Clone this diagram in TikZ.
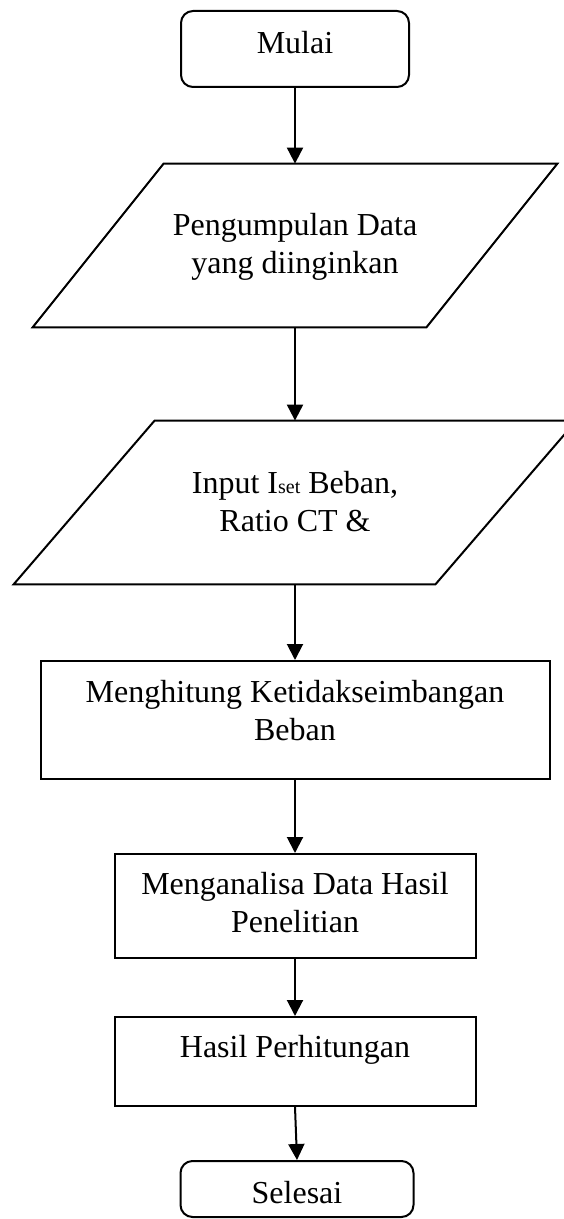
\documentclass[tikz,border=0pt]{standalone}
\usepackage{fontspec}
\setmainfont{Liberation Serif}
\usetikzlibrary{arrows.meta}

\begin{document}
\begin{tikzpicture}[x=0.5pt,y=-0.5pt,
    box/.style={draw,line width=1pt,inner sep=0pt},
    term/.style={box,rounded corners=6pt},
    io/.style={inner sep=0pt},
    txt/.style={font=\fontsize{16}{19}\selectfont,align=center,anchor=base,inner sep=0pt},
    arr/.style={line width=1pt,-{Triangle[width=8pt,length=8pt]}}]
    \useasboundingbox (0,0) rectangle (563,1219);

    % shapes
    \node[term,minimum width=114pt,minimum height=38pt] (mulai) at (295,49) {};
    \node[io,minimum width=262pt,minimum height=81.5pt] (kumpul) at (295,245.5) {};
    \draw[line width=1pt] (kumpul.south west) -- ([xshift=65.5pt]kumpul.north west)
        -- (kumpul.north east) -- ([xshift=-65.5pt]kumpul.south east) -- cycle;
    \node[io,minimum width=281pt,minimum height=81.5pt] (input) at (295,502.5) {};
    \draw[line width=1pt] (input.south west) -- ([xshift=70.5pt]input.north west)
        -- (input.north east) -- ([xshift=-70.5pt]input.south east) -- cycle;
    \node[box,minimum width=254.5pt,minimum height=59pt] (hitung) at (295,720) {};
    \node[box,minimum width=180.5pt,minimum height=52pt] (analisa) at (295,906) {};
    \node[box,minimum width=180.5pt,minimum height=44.5pt] (hasil) at (295,1061.5) {};
    \node[term,minimum width=116.5pt,minimum height=28pt] (selesai) at (297,1189) {};

    % texts (base = last line)
    \node[txt] (tMulai) at (295,54) {Mulai};
    \node[txt] (tKumpul) at (295,274) {Pengumpulan Data\\yang diinginkan};
    \node[txt] (tInput) at (295,531) {Input I{\fontsize{10}{12}\selectfont set} Beban,\\Ratio CT \&};
    \node[txt] (tHitung) at (295,740) {Menghitung Ketidakseimbangan\\Beban};
    \node[txt] (tAnalisa) at (295,932) {Menganalisa Data Hasil\\Penelitian};
    \node[txt] (tHasil) at (295,1057) {Hasil Perhitungan};
    \node[txt] (tSelesai) at (297,1203) {Selesai};

    % arrows
    \draw[arr] (mulai.south) -- (kumpul.north);
    \draw[arr] (kumpul.south) -- (input.north);
    \draw[arr] (input.south) -- (hitung.north);
    \draw[arr] (hitung.south) -- (analisa.north);
    \draw[arr] (analisa.south) -- (hasil.north);
    \draw[arr] (hasil.south) -- (selesai.north);
\end{tikzpicture}
\end{document}
